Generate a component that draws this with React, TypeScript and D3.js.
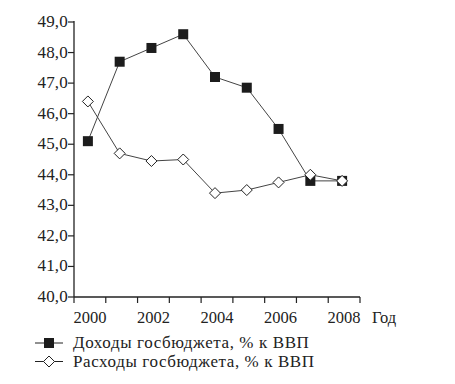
import React from 'react';
import * as d3 from 'd3';

// годы и значения, % к ВВП
const years = [2000, 2001, 2002, 2003, 2004, 2005, 2006, 2007, 2008];
const revenue = [45.1, 47.7, 48.15, 48.6, 47.2, 46.85, 45.5, 43.8, 43.8];
const spending = [46.4, 44.7, 44.45, 44.5, 43.4, 43.5, 43.75, 44.0, 43.8];
const yTicks = [40, 41, 42, 43, 44, 45, 46, 47, 48, 49];
const xLabels = [2000, 2002, 2004, 2006, 2008];
const legendLabels = ['Доходы госбюджета, % к ВВП', 'Расходы госбюджета, % к ВВП'];

const font = '"Liberation Serif", "DejaVu Serif", serif';
const ink = '#222';

export default function App() {
  const left = 74, right = 360, top = 22, bottom = 297;

  const x = d3.scaleLinear().domain([1999.5, 2008.5]).range([left, right]);
  const y = d3.scaleLinear().domain([40, 49]).range([bottom, top]);
  const px = (yr: number) => x(yr) - 2;

  const line = d3.line<number>()
    .x((_, i) => px(years[i]))
    .y(d => y(d));

  const tickYears = d3.range(1999.5, 2009, 1);
  const fmt = (v: number) => d3.format('.1f')(v).replace('.', ',');

  const square = (cx: number, cy: number, key: string) =>
    <rect key={key} x={cx - 5} y={cy - 5} width={10} height={10} fill="#1c1c1c" />;
  const diamond = (cx: number, cy: number, key: string) =>
    <path key={key} d={`M${cx},${cy - 5.5}L${cx + 5.5},${cy}L${cx},${cy + 5.5}L${cx - 5.5},${cy}Z`}
      fill="#fff" stroke={ink} strokeWidth={1} />;

  return (
    <svg width={455} height={384} style={{ position: 'absolute', left: 0, top: 0, background: '#fff' }}
      fontFamily={font}>
      {/* оси */}
      <line x1={left} x2={left} y1={top - 1} y2={bottom} stroke={ink} strokeWidth={1.3} />
      <line x1={left} x2={right} y1={bottom} y2={bottom} stroke={ink} strokeWidth={1.3} />
      {yTicks.map(t => (
        <g key={'y' + t}>
          <line x1={left - 6} x2={left} y1={y(t)} y2={y(t)} stroke={ink} strokeWidth={1.2} />
          <text x={left - 6} y={y(t) + 5} textAnchor="end" fontSize={17} letterSpacing={0.2} fill={ink}>{fmt(t)}</text>
        </g>
      ))}
      {tickYears.map(t => (
        <line key={'x' + t} x1={x(t)} x2={x(t)} y1={bottom} y2={bottom + 6} stroke={ink} strokeWidth={1.2} />
      ))}
      {xLabels.map(t => (
        <text key={'xl' + t} x={x(t)} y={323} textAnchor="middle" fontSize={16.5} fill={ink}>{t}</text>
      ))}
      <text x={372} y={323} fontSize={16.5} fill={ink}>Год</text>

      {/* линии */}
      <path d={line(spending) || ''} fill="none" stroke="#444" strokeWidth={1} />
      <path d={line(revenue) || ''} fill="none" stroke="#444" strokeWidth={1} />
      {revenue.map((v, i) => square(px(years[i]), y(v), 'r' + i))}
      {spending.map((v, i) => diamond(px(years[i]), y(v), 's' + i))}

      {/* легенда */}
      <line x1={35} x2={63} y1={343} y2={343} stroke={ink} strokeWidth={1} />
      {square(49, 343, 'lg1')}
      <text x={73} y={348} fontSize={17} letterSpacing={0.6} fill={ink}>{legendLabels[0]}</text>
      <line x1={35} x2={63} y1={361.5} y2={361.5} stroke={ink} strokeWidth={1} />
      {diamond(49, 361.5, 'lg2')}
      <text x={73} y={366.5} fontSize={17} letterSpacing={0.6} fill={ink}>{legendLabels[1]}</text>
    </svg>
  );
}
